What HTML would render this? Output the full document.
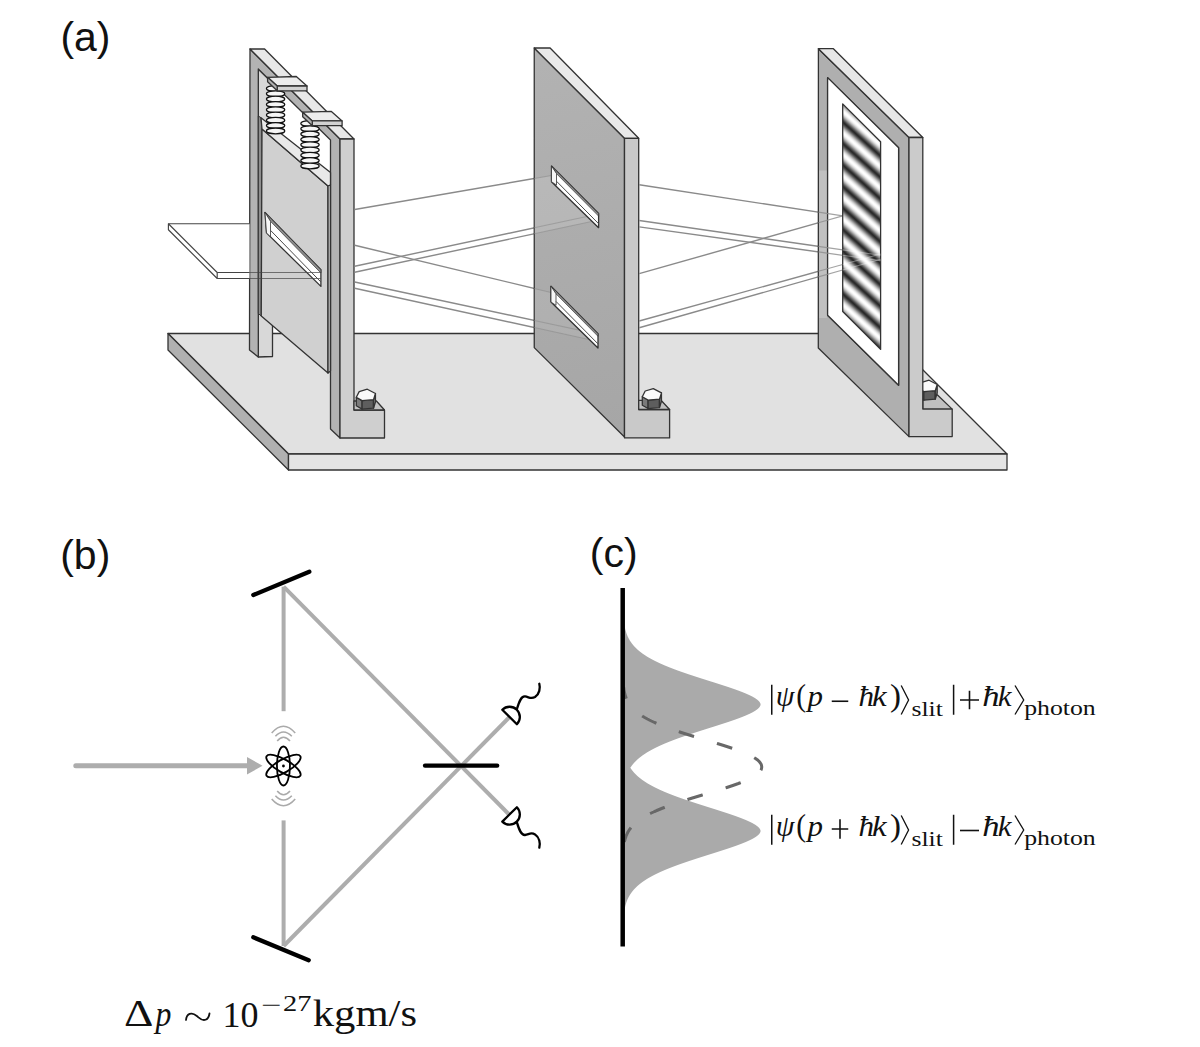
<!DOCTYPE html>
<html>
<head>
<meta charset="utf-8">
<style>
html,body{margin:0;padding:0;background:#ffffff;}
body{width:1200px;height:1047px;overflow:hidden;position:relative;}
svg{position:absolute;left:0;top:0;}
.lbl{font-family:"Liberation Sans",sans-serif;}
.ser{font-family:"Liberation Serif",serif;}
</style>
</head>
<body>
<svg width="1200" height="1047" viewBox="0 0 1200 1047">
<defs>
  <linearGradient id="fr" gradientUnits="userSpaceOnUse" x1="842.7" y1="122" x2="853.38" y2="110.13" spreadMethod="repeat">
    <stop offset="0.00" stop-color="#282828"/>
    <stop offset="0.05" stop-color="#353535"/>
    <stop offset="0.10" stop-color="#4d4d4d"/>
    <stop offset="0.15" stop-color="#6a6a6a"/>
    <stop offset="0.20" stop-color="#898989"/>
    <stop offset="0.25" stop-color="#a8a8a8"/>
    <stop offset="0.30" stop-color="#c4c4c4"/>
    <stop offset="0.35" stop-color="#dddddd"/>
    <stop offset="0.40" stop-color="#efefef"/>
    <stop offset="0.45" stop-color="#fbfbfb"/>
    <stop offset="0.50" stop-color="#ffffff"/>
    <stop offset="0.55" stop-color="#fbfbfb"/>
    <stop offset="0.60" stop-color="#efefef"/>
    <stop offset="0.65" stop-color="#dddddd"/>
    <stop offset="0.70" stop-color="#c4c4c4"/>
    <stop offset="0.75" stop-color="#a8a8a8"/>
    <stop offset="0.80" stop-color="#898989"/>
    <stop offset="0.85" stop-color="#6a6a6a"/>
    <stop offset="0.90" stop-color="#4d4d4d"/>
    <stop offset="0.95" stop-color="#353535"/>
    <stop offset="1.00" stop-color="#282828"/>
  </linearGradient>
  <linearGradient id="p2g" gradientUnits="userSpaceOnUse" x1="540" y1="60" x2="620" y2="430">
    <stop offset="0" stop-color="#b2b2b2"/>
    <stop offset="1" stop-color="#a6a6a6"/>
  </linearGradient>
</defs>

<g stroke="#333" stroke-width="1.3" stroke-linejoin="round">
<polygon points="168.00,333.50 886.50,333.50 1007.00,454.00 288.50,454.00" fill="#e1e1e1"/>
<polygon points="168.00,333.50 288.50,454.00 288.50,470.00 168.00,350.00" fill="#b0b0b0"/>
<polygon points="288.50,454.00 1007.00,454.00 1007.00,470.00 288.50,470.00" fill="#e4e4e4"/>
</g>
<g stroke="#333" stroke-width="1.3" stroke-linejoin="round">
<polygon points="258.30,69.00 272.50,83.00 272.50,356.50 258.30,357.00" fill="#d8d8d8"/>
<polygon points="250.00,49.00 340.00,139.00 340.00,438.00 330.50,429.00 330.50,140.00 258.30,69.00 258.30,357.00 249.50,350.00" fill="#b3b3b3"/>
<polygon points="250.00,49.00 264.60,49.00 354.00,139.00 340.00,139.00" fill="#e8e8e8"/>
<polygon points="258.30,116.00 261.00,117.70 262.00,129.00 261.25,316.00 258.30,313.50" fill="#8e8e8e" stroke-width="1"/>
<polygon points="262.00,129.00 328.00,186.00 328.00,373.00 261.25,316.00" fill="#d0d0d0"/>
<polygon points="261.00,117.70 330.50,172.50 330.50,185.00 328.00,186.00 262.00,129.00" fill="#e9e9e9"/>
<polygon points="328.00,186.00 330.50,185.00 330.50,371.00 328.00,373.00" fill="#bcbcbc"/>
<polygon points="265.00,212.40 320.90,269.70 320.90,286.40 266.50,232.90" fill="#ffffff"/>
<polygon points="265.00,212.40 320.90,269.70 320.90,273.00 270.50,221.34" fill="#8e8e8e" stroke-width="0.7"/>
<polygon points="265.00,212.40 270.50,221.34 270.50,236.81 266.50,232.90" fill="#f6f6f6" stroke-width="0.8"/>
<line x1="270.50" y1="230.34" x2="320.90" y2="282.00" stroke="#4a4a4a" stroke-width="1"/>
</g>
<g stroke="#111" stroke-width="1.25" fill="#f6f6f6">
<line x1="273.60" y1="88.50" x2="273.60" y2="128.50" stroke="#333" stroke-width="1"/>
<ellipse cx="275.60" cy="88.50" rx="9.2" ry="2.9"/>
<ellipse cx="275.60" cy="93.80" rx="9.2" ry="2.9"/>
<ellipse cx="275.60" cy="99.10" rx="9.2" ry="2.9"/>
<ellipse cx="275.60" cy="104.40" rx="9.2" ry="2.9"/>
<ellipse cx="275.60" cy="109.70" rx="9.2" ry="2.9"/>
<ellipse cx="275.60" cy="115.00" rx="9.2" ry="2.9"/>
<ellipse cx="275.60" cy="120.30" rx="9.2" ry="2.9"/>
<ellipse cx="275.60" cy="125.60" rx="9.2" ry="2.9"/>
<ellipse cx="275.60" cy="130.90" rx="9.2" ry="2.9"/>
<line x1="308.00" y1="123.50" x2="308.00" y2="163.50" stroke="#333" stroke-width="1"/>
<ellipse cx="310.00" cy="123.50" rx="9.2" ry="2.9"/>
<ellipse cx="310.00" cy="128.80" rx="9.2" ry="2.9"/>
<ellipse cx="310.00" cy="134.10" rx="9.2" ry="2.9"/>
<ellipse cx="310.00" cy="139.40" rx="9.2" ry="2.9"/>
<ellipse cx="310.00" cy="144.70" rx="9.2" ry="2.9"/>
<ellipse cx="310.00" cy="150.00" rx="9.2" ry="2.9"/>
<ellipse cx="310.00" cy="155.30" rx="9.2" ry="2.9"/>
<ellipse cx="310.00" cy="160.60" rx="9.2" ry="2.9"/>
<ellipse cx="310.00" cy="165.90" rx="9.2" ry="2.9"/>
</g>
<g stroke="#333" stroke-width="1.3" stroke-linejoin="round">
<polygon points="267.60,77.30 296.30,76.50 307.00,86.00 277.20,86.00" fill="#ececec"/>
<polygon points="277.20,86.00 307.00,86.00 307.00,90.80 277.20,90.80" fill="#d2d2d2"/>
<polygon points="267.60,77.30 277.20,86.00 277.20,90.80 267.60,81.80" fill="#b0b0b0"/>
<polygon points="302.70,112.20 331.40,111.40 342.10,120.90 312.30,120.90" fill="#ececec"/>
<polygon points="312.30,120.90 342.10,120.90 342.10,125.70 312.30,125.70" fill="#d2d2d2"/>
<polygon points="302.70,112.20 312.30,120.90 312.30,125.70 302.70,116.70" fill="#b0b0b0"/>
<polygon points="340.00,139.00 354.00,139.00 354.00,410.00 384.50,410.00 384.50,438.00 340.00,438.00" fill="#cfcfcf"/>
<polygon points="354.00,401.00 376.40,401.00 384.50,410.00 354.00,410.00" fill="#c2c2c2"/>
<polygon points="356.30,397.30 362.10,400.65 362.10,409.15 356.30,405.80" fill="#7a7a7a"/>
<polygon points="362.10,400.65 373.50,399.70 373.50,408.20 362.10,409.15" fill="#5e5e5e"/>
<polygon points="373.50,399.70 375.45,393.50 375.45,402.00 373.50,408.20" fill="#858585"/>
<polygon points="356.30,397.30 359.20,391.60 367.30,389.20 375.45,393.50 373.50,399.70 362.10,400.65" fill="#fafafa"/>
</g>
<g stroke="#444" stroke-width="1.15" stroke-linejoin="round">
<polygon points="168.40,223.75 249.50,223.75 249.50,272.50 217.20,272.50" fill="#ffffff" stroke="none"/>
<polygon points="217.20,272.50 249.50,272.50 249.50,278.50 217.20,278.50" fill="#ffffff" stroke="none"/>
<polygon points="168.40,223.75 217.20,272.50 217.20,278.50 168.40,229.75" fill="#ffffff"/>
<line x1="168.40" y1="223.75" x2="249.50" y2="223.75"/>
<line x1="217.20" y1="272.50" x2="249.50" y2="272.50"/>
<line x1="217.20" y1="278.50" x2="249.50" y2="278.50"/>
<line x1="249.50" y1="272.50" x2="321.00" y2="272.50" stroke-opacity="0.7"/>
<line x1="249.50" y1="278.50" x2="321.00" y2="278.50" stroke-opacity="0.7"/>
</g>
<g stroke="#8a8a8a" stroke-width="1.4">
<line x1="354.70" y1="209.50" x2="551.50" y2="175.50"/>
<line x1="354.70" y1="245.25" x2="551.00" y2="292.50"/>
<line x1="354.70" y1="266.30" x2="598.60" y2="214.00"/>
<line x1="354.70" y1="272.20" x2="598.60" y2="220.00"/>
<line x1="354.70" y1="282.00" x2="598.00" y2="334.10"/>
<line x1="354.70" y1="288.30" x2="598.00" y2="341.50"/>
</g>
<g stroke="#333" stroke-width="1.3" stroke-linejoin="round">
<polygon points="534.25,48.00 624.50,138.30 624.50,437.00 534.25,347.60" fill="url(#p2g)"/>
</g>
<polygon points="534.25,178.50 551.50,175.50 598.60,214.00 598.60,220.00 534.25,233.70" fill="rgba(255,255,255,0.13)"/>
<polygon points="534.25,288.40 551.00,292.50 598.00,334.10 598.00,341.50 534.25,327.60" fill="rgba(255,255,255,0.08)"/>
<g stroke="#8c8c8c" stroke-width="1.1" stroke-opacity="0.6">
<line x1="534.25" y1="178.48" x2="551.50" y2="175.50"/>
<line x1="534.25" y1="288.47" x2="551.00" y2="292.50"/>
<line x1="534.25" y1="227.80" x2="598.60" y2="214.00"/>
<line x1="534.25" y1="233.77" x2="598.60" y2="220.00"/>
<line x1="534.25" y1="320.45" x2="598.00" y2="334.10"/>
<line x1="534.25" y1="327.56" x2="598.00" y2="341.50"/>
</g>
<g stroke="#333" stroke-width="1.3" stroke-linejoin="round">
<polygon points="534.25,48.00 550.10,48.00 638.70,138.30 624.50,138.30" fill="#e9e9e9"/>
<polygon points="624.50,138.30 638.70,138.30 638.70,409.50 669.60,409.50 669.60,437.90 624.50,437.90" fill="#c9c9c9"/>
<polygon points="638.70,400.30 661.00,400.30 669.60,409.50 638.70,409.50" fill="#c0c0c0"/>
<polygon points="551.50,166.00 598.60,213.50 598.60,227.70 551.50,181.70" fill="#ffffff"/>
<polygon points="551.50,166.00 598.60,213.50 598.60,216.10 556.50,173.64" fill="#8e8e8e" stroke-width="0.7"/>
<polygon points="551.50,166.00 556.50,173.64 556.50,185.08 551.50,181.70" fill="#f6f6f6" stroke-width="0.8"/>
<line x1="556.50" y1="181.24" x2="598.60" y2="223.70" stroke="#4a4a4a" stroke-width="1"/>
<polygon points="551.00,286.20 598.00,333.70 598.00,348.00 551.00,302.00" fill="#ffffff"/>
<polygon points="551.00,286.20 598.00,333.70 598.00,336.30 556.00,293.85" fill="#8e8e8e" stroke-width="0.7"/>
<polygon points="551.00,286.20 556.00,293.85 556.00,305.39 551.00,302.00" fill="#f6f6f6" stroke-width="0.8"/>
<line x1="556.00" y1="301.45" x2="598.00" y2="343.90" stroke="#4a4a4a" stroke-width="1"/>
<polygon points="642.30,396.70 648.10,400.05 648.10,408.55 642.30,405.20" fill="#7a7a7a"/>
<polygon points="648.10,400.05 659.50,399.10 659.50,407.60 648.10,408.55" fill="#5e5e5e"/>
<polygon points="659.50,399.10 661.45,392.90 661.45,401.40 659.50,407.60" fill="#858585"/>
<polygon points="642.30,396.70 645.20,391.00 653.30,388.60 661.45,392.90 659.50,399.10 648.10,400.05" fill="#fafafa"/>
</g>
<g stroke="#8a8a8a" stroke-width="1.4">
<line x1="639.20" y1="184.75" x2="842.70" y2="215.90"/>
<line x1="639.20" y1="273.70" x2="842.70" y2="215.90"/>
<line x1="639.20" y1="220.50" x2="880.60" y2="255.30"/>
<line x1="639.20" y1="226.90" x2="880.60" y2="260.60"/>
<line x1="639.20" y1="321.00" x2="880.60" y2="254.00"/>
<line x1="639.20" y1="327.75" x2="880.60" y2="259.20"/>
</g>
<g stroke="#333" stroke-width="1.3" stroke-linejoin="round">
<path d="M818.4,48.7 L909,137.5 L909,436.6 L818.3,348 Z M827.6,77.6 L898.6,147.8 L898.6,385.25 L827.6,315.3 Z" fill="#afafaf" fill-rule="evenodd"/>
<polygon points="827.60,77.60 898.60,147.80 898.60,385.25 827.60,315.30" fill="#ffffff"/>
<polygon points="819.10,170.50 826.90,170.50 826.90,318.00 819.10,318.00" fill="rgba(255,255,255,0.22)" stroke="none"/>
</g>
<g stroke="#8c8c8c" stroke-width="1.15" stroke-opacity="0.8">
<line x1="818.40" y1="212.18" x2="842.70" y2="215.90"/>
<line x1="818.40" y1="222.80" x2="842.70" y2="215.90"/>
<line x1="818.40" y1="246.33" x2="842.70" y2="249.84"/>
<line x1="818.40" y1="251.92" x2="842.70" y2="255.31"/>
<line x1="818.40" y1="271.26" x2="842.70" y2="264.52"/>
<line x1="818.40" y1="276.86" x2="842.70" y2="269.96"/>
</g>
<g stroke="#333" stroke-width="1.3" stroke-linejoin="round">
<polygon points="842.70,103.90 880.60,141.80 880.60,349.40 842.70,311.50" fill="url(#fr)"/>
</g>
<g stroke="#ffffff" stroke-width="1.1" stroke-opacity="0.35">
<line x1="842.70" y1="249.84" x2="880.60" y2="255.30"/>
<line x1="842.70" y1="255.31" x2="880.60" y2="260.60"/>
<line x1="842.70" y1="264.52" x2="880.60" y2="254.00"/>
<line x1="842.70" y1="269.96" x2="880.60" y2="259.20"/>
</g>
<g stroke="#333" stroke-width="1.3" stroke-linejoin="round">
<polygon points="818.40,48.70 833.40,48.70 922.80,137.50 909.00,137.50" fill="#e7e7e7"/>
<polygon points="922.80,393.00 937.50,395.00 952.20,409.10 922.80,409.10" fill="#c0c0c0"/>
<polygon points="918.05,388.30 923.85,391.65 923.85,400.15 918.05,396.80" fill="#7a7a7a"/>
<polygon points="923.85,391.65 935.25,390.70 935.25,399.20 923.85,400.15" fill="#5e5e5e"/>
<polygon points="935.25,390.70 937.20,384.50 937.20,393.00 935.25,399.20" fill="#858585"/>
<polygon points="918.05,388.30 920.95,382.60 929.05,380.20 937.20,384.50 935.25,390.70 923.85,391.65" fill="#fafafa"/>
<polygon points="909.00,137.50 922.80,137.50 922.80,409.10 952.20,409.10 952.20,436.60 909.00,436.60" fill="#cbcbcb"/>
</g>


<!-- ============ (b) ============ -->
<g stroke="#adadad" stroke-width="4" fill="none" stroke-linecap="butt">
  <line x1="283.6" y1="586.7" x2="283.6" y2="711.2"/>
  <line x1="283.6" y1="820.4" x2="283.6" y2="946"/>
  <line x1="283.6" y1="586.7" x2="509.6" y2="815"/>
  <line x1="283.6" y1="946" x2="509.6" y2="717"/>
  <line x1="75.8" y1="765.7" x2="250" y2="765.7" stroke-width="5" stroke-linecap="round"/>
</g>
<polygon points="247,757 262.5,765.7 247,774.5" fill="#adadad"/>
<g stroke="#000" stroke-width="4.3" stroke-linecap="round">
  <line x1="253.3" y1="595" x2="309.3" y2="571.7"/>
  <line x1="253.3" y1="937.3" x2="308.7" y2="960.3"/>
  <line x1="425" y1="765.7" x2="497.2" y2="765.7"/>
</g>
<!-- atom -->
<g transform="translate(283.45,766)" stroke="#000" stroke-width="1.8" fill="none">
  <ellipse rx="6.5" ry="19.5"/>
  <ellipse rx="6.5" ry="19.5" transform="rotate(60)"/>
  <ellipse rx="6.5" ry="19.5" transform="rotate(-60)"/>
  <circle r="1.4" fill="#000" stroke="none"/>
</g>
<g stroke="#aaaaaa" stroke-width="1.6" fill="none">
  <path d="M271.7,733 Q283.45,719.5 295.2,733"/>
  <path d="M275.4,736.3 Q283.45,727.7 291.8,736.3"/>
  <path d="M277.2,741 Q283.45,733.4 290,741"/>
  <path d="M271.7,799 Q283.45,812.5 295.2,799"/>
  <path d="M275.4,795.7 Q283.45,804.3 291.8,795.7"/>
  <path d="M277.2,791 Q283.45,798.6 290,791"/>
</g>
<!-- detectors -->
<g stroke="#000" stroke-width="2.3" fill="#fff" stroke-linejoin="round" stroke-linecap="round">
  <path d="M502.3,709.8 L516.9,724.2 A10.25,10.25 0 0 0 502.3,709.8 Z"/>
  <path d="M516.9,709 C519,702 521,696 525,696.4 C529,697 531,699.5 535,697 C539.5,694 540.5,688 539.3,683.75" fill="none"/>
  <path d="M502.3,821.6 L516.9,807.2 A10.25,10.25 0 0 1 502.3,821.6 Z"/>
  <path d="M516.9,822.4 C519,829.4 521,835.4 525,835 C529,834.4 531,831.9 535,834.4 C539.5,837.4 540.5,843.4 539.3,847.65" fill="none"/>
</g>

<!-- ============ (c) ============ -->
<path d="M622.7,604.5 L622.9,604.5 L622.9,605.5 L622.9,606.5 L622.9,607.5 L623.0,608.5 L623.0,609.5 L623.0,610.5 L623.1,611.5 L623.1,612.5 L623.2,613.5 L623.2,614.5 L623.3,615.5 L623.4,616.5 L623.4,617.5 L623.5,618.5 L623.6,619.5 L623.7,620.5 L623.8,621.5 L624.0,622.5 L624.1,623.5 L624.3,624.5 L624.4,625.5 L624.6,626.5 L624.8,627.5 L625.1,628.5 L625.3,629.5 L625.6,630.5 L625.9,631.5 L626.2,632.5 L626.5,633.5 L626.9,634.5 L627.3,635.5 L627.7,636.5 L628.2,637.5 L628.7,638.5 L629.3,639.5 L629.8,640.5 L630.5,641.5 L631.2,642.5 L631.9,643.5 L632.7,644.5 L633.5,645.5 L634.4,646.5 L635.4,647.5 L636.4,648.5 L637.4,649.5 L638.6,650.5 L639.8,651.5 L641.1,652.5 L642.4,653.5 L643.9,654.5 L645.4,655.5 L646.9,656.5 L648.6,657.5 L650.4,658.5 L652.2,659.5 L654.1,660.5 L656.1,661.5 L658.2,662.5 L660.3,663.5 L662.6,664.5 L664.9,665.5 L667.3,666.5 L669.8,667.5 L672.4,668.5 L675.0,669.5 L677.7,670.5 L680.5,671.5 L683.4,672.5 L686.3,673.5 L689.2,674.5 L692.3,675.5 L695.3,676.5 L698.4,677.5 L701.5,678.5 L704.7,679.5 L707.8,680.5 L711.0,681.5 L714.2,682.5 L717.3,683.5 L720.4,684.5 L723.5,685.5 L726.6,686.5 L729.6,687.5 L732.5,688.5 L735.4,689.5 L738.1,690.5 L740.8,691.5 L743.3,692.5 L745.8,693.5 L748.0,694.5 L750.2,695.5 L752.2,696.5 L754.0,697.5 L755.6,698.5 L757.0,699.5 L758.2,700.5 L759.2,701.5 L759.9,702.5 L760.4,703.5 L760.6,704.5 L760.4,705.5 L759.9,706.5 L759.2,707.5 L758.2,708.5 L757.0,709.5 L755.6,710.5 L754.0,711.5 L752.2,712.5 L750.2,713.5 L748.0,714.5 L745.8,715.5 L743.3,716.5 L740.8,717.5 L738.1,718.5 L735.4,719.5 L732.5,720.5 L729.6,721.5 L726.6,722.5 L723.5,723.5 L720.4,724.5 L717.3,725.5 L714.2,726.5 L711.0,727.5 L707.8,728.5 L704.7,729.5 L701.5,730.5 L698.4,731.5 L695.3,732.5 L692.3,733.5 L689.2,734.5 L686.3,735.5 L683.4,736.5 L680.5,737.5 L677.7,738.5 L675.0,739.5 L672.4,740.5 L669.8,741.5 L667.3,742.5 L664.9,743.5 L662.6,744.5 L660.3,745.5 L658.2,746.5 L656.1,747.5 L654.1,748.5 L652.2,749.5 L650.4,750.5 L648.6,751.5 L646.9,752.5 L645.4,753.5 L643.9,754.5 L642.4,755.5 L641.1,756.5 L639.8,757.5 L638.6,758.5 L637.4,759.5 L636.4,760.5 L635.4,761.5 L634.4,762.5 L633.5,763.5 L632.7,764.5 L631.9,765.5 L631.2,766.5 L630.5,767.5 L629.8,768.5 L629.3,769.5 L628.7,770.5 L628.2,771.5 L627.7,772.5 L627.3,773.5 L626.9,774.5 L626.5,775.5 L626.2,776.5 L625.9,777.5 L625.6,778.5 L625.3,779.5 L625.1,780.5 L624.8,781.5 L624.6,782.5 L624.4,783.5 L624.3,784.5 L624.1,785.5 L624.0,786.5 L623.8,787.5 L623.7,788.5 L623.6,789.5 L623.5,790.5 L623.4,791.5 L623.4,792.5 L623.3,793.5 L623.2,794.5 L623.2,795.5 L623.1,796.5 L623.1,797.5 L623.0,798.5 L623.0,799.5 L623.0,800.5 L622.9,801.5 L622.9,802.5 L622.9,803.5 L622.9,804.5 L622.7,804.5 Z M622.7,731.0 L622.9,731.0 L622.9,732.0 L622.9,733.0 L622.9,734.0 L623.0,735.0 L623.0,736.0 L623.0,737.0 L623.1,738.0 L623.1,739.0 L623.2,740.0 L623.2,741.0 L623.3,742.0 L623.4,743.0 L623.4,744.0 L623.5,745.0 L623.6,746.0 L623.7,747.0 L623.8,748.0 L624.0,749.0 L624.1,750.0 L624.3,751.0 L624.4,752.0 L624.6,753.0 L624.8,754.0 L625.1,755.0 L625.3,756.0 L625.6,757.0 L625.9,758.0 L626.2,759.0 L626.5,760.0 L626.9,761.0 L627.3,762.0 L627.7,763.0 L628.2,764.0 L628.7,765.0 L629.3,766.0 L629.8,767.0 L630.5,768.0 L631.2,769.0 L631.9,770.0 L632.7,771.0 L633.5,772.0 L634.4,773.0 L635.4,774.0 L636.4,775.0 L637.4,776.0 L638.6,777.0 L639.8,778.0 L641.1,779.0 L642.4,780.0 L643.9,781.0 L645.4,782.0 L646.9,783.0 L648.6,784.0 L650.4,785.0 L652.2,786.0 L654.1,787.0 L656.1,788.0 L658.2,789.0 L660.3,790.0 L662.6,791.0 L664.9,792.0 L667.3,793.0 L669.8,794.0 L672.4,795.0 L675.0,796.0 L677.7,797.0 L680.5,798.0 L683.4,799.0 L686.3,800.0 L689.2,801.0 L692.3,802.0 L695.3,803.0 L698.4,804.0 L701.5,805.0 L704.7,806.0 L707.8,807.0 L711.0,808.0 L714.2,809.0 L717.3,810.0 L720.4,811.0 L723.5,812.0 L726.6,813.0 L729.6,814.0 L732.5,815.0 L735.4,816.0 L738.1,817.0 L740.8,818.0 L743.3,819.0 L745.8,820.0 L748.0,821.0 L750.2,822.0 L752.2,823.0 L754.0,824.0 L755.6,825.0 L757.0,826.0 L758.2,827.0 L759.2,828.0 L759.9,829.0 L760.4,830.0 L760.6,831.0 L760.4,832.0 L759.9,833.0 L759.2,834.0 L758.2,835.0 L757.0,836.0 L755.6,837.0 L754.0,838.0 L752.2,839.0 L750.2,840.0 L748.0,841.0 L745.8,842.0 L743.3,843.0 L740.8,844.0 L738.1,845.0 L735.4,846.0 L732.5,847.0 L729.6,848.0 L726.6,849.0 L723.5,850.0 L720.4,851.0 L717.3,852.0 L714.2,853.0 L711.0,854.0 L707.8,855.0 L704.7,856.0 L701.5,857.0 L698.4,858.0 L695.3,859.0 L692.3,860.0 L689.2,861.0 L686.3,862.0 L683.4,863.0 L680.5,864.0 L677.7,865.0 L675.0,866.0 L672.4,867.0 L669.8,868.0 L667.3,869.0 L664.9,870.0 L662.6,871.0 L660.3,872.0 L658.2,873.0 L656.1,874.0 L654.1,875.0 L652.2,876.0 L650.4,877.0 L648.6,878.0 L646.9,879.0 L645.4,880.0 L643.9,881.0 L642.4,882.0 L641.1,883.0 L639.8,884.0 L638.6,885.0 L637.4,886.0 L636.4,887.0 L635.4,888.0 L634.4,889.0 L633.5,890.0 L632.7,891.0 L631.9,892.0 L631.2,893.0 L630.5,894.0 L629.8,895.0 L629.3,896.0 L628.7,897.0 L628.2,898.0 L627.7,899.0 L627.3,900.0 L626.9,901.0 L626.5,902.0 L626.2,903.0 L625.9,904.0 L625.6,905.0 L625.3,906.0 L625.1,907.0 L624.8,908.0 L624.6,909.0 L624.4,910.0 L624.3,911.0 L624.1,912.0 L624.0,913.0 L623.8,914.0 L623.7,915.0 L623.6,916.0 L623.5,917.0 L623.4,918.0 L623.4,919.0 L623.3,920.0 L623.2,921.0 L623.2,922.0 L623.1,923.0 L623.1,924.0 L623.0,925.0 L623.0,926.0 L623.0,927.0 L622.9,928.0 L622.9,929.0 L622.9,930.0 L622.9,931.0 L622.7,931.0 Z" fill="#aaaaaa"/>
<path d="M623.6,687.0 L623.7,687.5 L623.7,688.0 L623.8,688.5 L623.9,689.0 L623.9,689.5 L624.0,690.0 L624.1,690.5 L624.2,691.0 L624.3,691.5 L624.4,692.0 L624.5,692.5 L624.6,693.0 L624.7,693.5 L624.9,694.0 L625.0,694.5 L625.1,695.0 L625.3,695.5 L625.4,696.0 L625.6,696.5 L625.8,697.0 L625.9,697.5 L626.1,698.0 L626.3,698.5 L626.5,699.0 L626.8,699.5 L627.0,700.0 L627.2,700.5 L627.5,701.0 L627.7,701.5 L628.0,702.0 L628.3,702.5 L628.6,703.0 L628.9,703.5 L629.2,704.0 L629.6,704.5 L629.9,705.0 L630.3,705.5 L630.7,706.0 L631.1,706.5 L631.5,707.0 L631.9,707.5 L632.4,708.0 L632.9,708.5 L633.3,709.0 L633.8,709.5 L634.4,710.0 L634.9,710.5 L635.5,711.0 L636.0,711.5 L636.6,712.0 L637.3,712.5 L637.9,713.0 L638.6,713.5 L639.3,714.0 L640.0,714.5 L640.7,715.0 L641.5,715.5 L642.2,716.0 L643.0,716.5 L643.9,717.0 L644.7,717.5 L645.6,718.0 L646.5,718.5 L647.4,719.0 L648.4,719.5 L649.3,720.0 L650.3,720.5 L651.3,721.0 L652.4,721.5 L653.5,722.0 L654.5,722.5 L655.7,723.0 L656.8,723.5 L658.0,724.0 L659.2,724.5 L660.4,725.0 L661.6,725.5 L662.9,726.0 L664.2,726.5 L665.5,727.0 L666.8,727.5 L668.2,728.0 L669.6,728.5 L671.0,729.0 L672.4,729.5 L673.8,730.0 L675.3,730.5 L676.8,731.0 L678.3,731.5 L679.8,732.0 L681.3,732.5 L682.9,733.0 L684.4,733.5 L686.0,734.0 L687.6,734.5 L689.2,735.0 L690.8,735.5 L692.4,736.0 L694.1,736.5 L695.7,737.0 L697.4,737.5 L699.0,738.0 L700.7,738.5 L702.3,739.0 L704.0,739.5 L705.7,740.0 L707.3,740.5 L709.0,741.0 L710.7,741.5 L712.3,742.0 L714.0,742.5 L715.6,743.0 L717.2,743.5 L718.9,744.0 L720.5,744.5 L722.1,745.0 L723.7,745.5 L725.2,746.0 L726.8,746.5 L728.3,747.0 L729.8,747.5 L731.3,748.0 L732.8,748.5 L734.2,749.0 L735.6,749.5 L737.0,750.0 L738.4,750.5 L739.7,751.0 L741.0,751.5 L742.3,752.0 L743.6,752.5 L744.8,753.0 L745.9,753.5 L747.1,754.0 L748.2,754.5 L749.2,755.0 L750.3,755.5 L751.2,756.0 L752.2,756.5 L753.1,757.0 L753.9,757.5 L754.7,758.0 L755.5,758.5 L756.2,759.0 L756.9,759.5 L757.6,760.0 L758.1,760.5 L758.7,761.0 L759.2,761.5 L759.6,762.0 L760.0,762.5 L760.4,763.0 L760.7,763.5 L761.0,764.0 L761.2,764.5 L761.4,765.0 L761.5,765.5 L761.6,766.0 L761.7,766.5 L761.7,767.0 L761.7,767.5 L761.6,768.0 L761.5,768.5 L761.4,769.0 L761.2,769.5 L761.0,770.0 L760.7,770.5 L760.4,771.0 L760.0,771.5 L759.6,772.0 L759.2,772.5 L758.7,773.0 L758.1,773.5 L757.6,774.0 L756.9,774.5 L756.2,775.0 L755.5,775.5 L754.7,776.0 L753.9,776.5 L753.1,777.0 L752.2,777.5 L751.2,778.0 L750.3,778.5 L749.2,779.0 L748.2,779.5 L747.1,780.0 L745.9,780.5 L744.8,781.0 L743.6,781.5 L742.3,782.0 L741.0,782.5 L739.7,783.0 L738.4,783.5 L737.0,784.0 L735.6,784.5 L734.2,785.0 L732.8,785.5 L731.3,786.0 L729.8,786.5 L728.3,787.0 L726.8,787.5 L725.2,788.0 L723.7,788.5 L722.1,789.0 L720.5,789.5 L718.9,790.0 L717.2,790.5 L715.6,791.0 L714.0,791.5 L712.3,792.0 L710.7,792.5 L709.0,793.0 L707.3,793.5 L705.7,794.0 L704.0,794.5 L702.3,795.0 L700.7,795.5 L699.0,796.0 L697.4,796.5 L695.7,797.0 L694.1,797.5 L692.4,798.0 L690.8,798.5 L689.2,799.0 L687.6,799.5 L686.0,800.0 L684.4,800.5 L682.9,801.0 L681.3,801.5 L679.8,802.0 L678.3,802.5 L676.8,803.0 L675.3,803.5 L673.8,804.0 L672.4,804.5 L671.0,805.0 L669.6,805.5 L668.2,806.0 L666.8,806.5 L665.5,807.0 L664.2,807.5 L662.9,808.0 L661.6,808.5 L660.4,809.0 L659.2,809.5 L658.0,810.0 L656.8,810.5 L655.7,811.0 L654.5,811.5 L653.5,812.0 L652.4,812.5 L651.3,813.0 L650.3,813.5 L649.3,814.0 L648.4,814.5 L647.4,815.0 L646.5,815.5 L645.6,816.0 L644.7,816.5 L643.9,817.0 L643.0,817.5 L642.2,818.0 L641.5,818.5 L640.7,819.0 L640.0,819.5 L639.3,820.0 L638.6,820.5 L637.9,821.0 L637.3,821.5 L636.6,822.0 L636.0,822.5 L635.5,823.0 L634.9,823.5 L634.4,824.0 L633.8,824.5 L633.3,825.0 L632.9,825.5 L632.4,826.0 L631.9,826.5 L631.5,827.0 L631.1,827.5 L630.7,828.0 L630.3,828.5 L629.9,829.0 L629.6,829.5 L629.2,830.0 L628.9,830.5 L628.6,831.0 L628.3,831.5 L628.0,832.0 L627.7,832.5 L627.5,833.0 L627.2,833.5 L627.0,834.0 L626.8,834.5 L626.5,835.0 L626.3,835.5 L626.1,836.0 L625.9,836.5 L625.8,837.0 L625.6,837.5 L625.4,838.0 L625.3,838.5 L625.1,839.0 L625.0,839.5 L624.9,840.0 L624.7,840.5 L624.6,841.0 L624.5,841.5 L624.4,842.0 L624.3,842.5 L624.2,843.0 L624.1,843.5 L624.0,844.0 L623.9,844.5 L623.9,845.0 L623.8,845.5 L623.7,846.0 L623.7,846.5 L623.6,847.0" fill="none" stroke="#686868" stroke-width="3" stroke-dasharray="16,23.94" stroke-dashoffset="4.04"/>
<line x1="622.7" y1="588" x2="622.7" y2="946.6" stroke="#000" stroke-width="4.5"/>


<g fill="#111">
<text x="775.72" y="706.00" class="ser" font-size="30" font-style="italic">ψ</text>
<text transform="translate(796.33,706.00) scale(0.917,1)" class="ser" font-size="32">(</text>
<text transform="translate(807.56,706.00) scale(1.031,1)" class="ser" font-size="30" font-style="italic">p</text>
<text transform="translate(858.46,706.00) scale(1.038,1)" class="ser" font-size="30" font-style="italic">ħ</text>
<text transform="translate(871.90,706.00) scale(1.096,1)" class="ser" font-size="30" font-style="italic">k</text>
<text transform="translate(889.97,706.00) scale(1.031,1)" class="ser" font-size="32">)</text>
<text transform="translate(911.53,715.50) scale(1.219,1)" class="ser" font-size="21">slit</text>
<text transform="translate(982.35,706.00) scale(1.154,1)" class="ser" font-size="30" font-style="italic">ħ</text>
<text transform="translate(997.77,706.00) scale(1.031,1)" class="ser" font-size="30" font-style="italic">k</text>
<text transform="translate(1024.17,714.50) scale(1.228,1)" class="ser" font-size="21">photon</text>
<text x="775.72" y="836.00" class="ser" font-size="30" font-style="italic">ψ</text>
<text transform="translate(796.33,836.00) scale(0.917,1)" class="ser" font-size="32">(</text>
<text transform="translate(807.56,836.00) scale(1.031,1)" class="ser" font-size="30" font-style="italic">p</text>
<text transform="translate(858.46,836.00) scale(1.038,1)" class="ser" font-size="30" font-style="italic">ħ</text>
<text transform="translate(871.90,836.00) scale(1.096,1)" class="ser" font-size="30" font-style="italic">k</text>
<text transform="translate(889.97,836.00) scale(1.031,1)" class="ser" font-size="32">)</text>
<text transform="translate(911.53,845.50) scale(1.219,1)" class="ser" font-size="21">slit</text>
<text transform="translate(982.35,836.00) scale(1.154,1)" class="ser" font-size="30" font-style="italic">ħ</text>
<text transform="translate(997.77,836.00) scale(1.031,1)" class="ser" font-size="30" font-style="italic">k</text>
<text transform="translate(1024.17,844.50) scale(1.228,1)" class="ser" font-size="21">photon</text>
<text transform="translate(124.06,1026.00) scale(1.236,1)" class="ser" font-size="37">Δ</text>
<text transform="translate(155.51,1026.00) scale(0.882,1)" class="ser" font-size="36" font-style="italic">p</text>
<text x="222.44" y="1026.50" class="ser" font-size="36">10</text>
<text transform="translate(261.20,1012.50) scale(1.500,1)" class="ser" font-size="24">−</text>
<text transform="translate(283.01,1011.20) scale(1.186,1)" class="ser" font-size="24">27</text>
<text transform="translate(312.78,1026.00) scale(1.122,1)" class="ser" font-size="38">kgm/s</text>
<text transform="translate(60.45,51.00) scale(1.023,1)" class="lbl" font-size="40">(a)</text>
<text transform="translate(60.25,568.50) scale(1.023,1)" class="lbl" font-size="40">(b)</text>
<text transform="translate(589.85,566.50) scale(1.026,1)" class="lbl" font-size="40">(c)</text>
<path d="M186,1020 C186.5,1015 189,1013.5 191.7,1013.6 C194.5,1013.7 196,1015.5 198,1017 C200,1018.7 201.5,1020 203.9,1020 C207,1020 209,1017 209.5,1013.5" fill="none" stroke="#111" stroke-width="1.8" stroke-linecap="round"/>
<path d="M831.75,701.25 H848.25" fill="none" stroke="#111" stroke-width="1.6"/>
<path d="M960.00,700.00 H979.00 M969.50,690.65 V709.35" fill="none" stroke="#111" stroke-width="1.6"/>
<path d="M831.75,829.00 H848.25 M840.00,819.25 V838.75" fill="none" stroke="#111" stroke-width="1.6"/>
<path d="M960.00,830.50 H979.00" fill="none" stroke="#111" stroke-width="1.6"/>
<line x1="771.75" y1="684.75" x2="771.75" y2="714.75" stroke="#111" stroke-width="1.5"/>
<line x1="953.60" y1="684.75" x2="953.60" y2="714.75" stroke="#111" stroke-width="1.5"/>
<path d="M901.2,685.5 L908.6,700.0 L901.2,714.5" fill="none" stroke="#111" stroke-width="1.3"/>
<path d="M1015.0,685.5 L1023.7,700.0 L1015.0,714.5" fill="none" stroke="#111" stroke-width="1.3"/>
<line x1="771.75" y1="814.75" x2="771.75" y2="844.75" stroke="#111" stroke-width="1.5"/>
<line x1="953.60" y1="814.75" x2="953.60" y2="844.75" stroke="#111" stroke-width="1.5"/>
<path d="M901.2,815.5 L908.6,830.0 L901.2,844.5" fill="none" stroke="#111" stroke-width="1.3"/>
<path d="M1015.0,815.5 L1023.7,830.0 L1015.0,844.5" fill="none" stroke="#111" stroke-width="1.3"/>
</g>

</svg>
</body>
</html>
